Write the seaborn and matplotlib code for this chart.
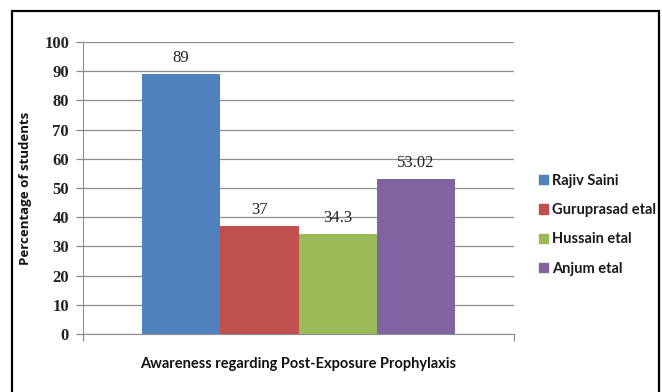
import matplotlib
matplotlib.use("Agg")
import matplotlib.pyplot as plt
import matplotlib.patches as mpatches
import seaborn as sns
import pandas as pd

# ── data ──────────────────────────────────────────────────────────────────────
studies = ["Rajiv Saini", "Guruprasad etal", "Hussain etal", "Anjum etal"]
awareness = [89, 37, 34.3, 53.02]
value_labels = ["89", "37", "34.3", "53.02"]
category = "Awareness regarding Post-Exposure Prophylaxis"
colors = ["#4F81BD", "#C0504D", "#9BBB59", "#8064A2"]
y_ticks = [0, 10, 20, 30, 40, 50, 60, 70, 80, 90, 100]

df = pd.DataFrame({"cat": [category] * len(studies),
                   "study": studies,
                   "pct": awareness})

sns.set_style("white")

fig = plt.figure(figsize=(6.62, 3.92), dpi=100)
ax = fig.add_axes([83 / 662, 1 - 334 / 392, 431 / 662, 292 / 392])

sns.barplot(data=df, x="cat", y="pct", hue="study", hue_order=studies,
            palette=colors, width=0.726, saturation=1, ax=ax,
            edgecolor="none", linewidth=0)

for cont, lab in zip(ax.containers, value_labels):
    ax.bar_label(cont, labels=[lab], padding=6, fontsize=12,
                 family="Liberation Serif", color="#222222")

# ── axes styling ─────────────────────────────────────────────────────────────
ax.set_ylim(0, 100)
ax.set_yticks(y_ticks)
ax.yaxis.grid(True, color="#8c8c8c", linewidth=0.9)
ax.set_axisbelow(True)
for s in ["top", "right"]:
    ax.spines[s].set_visible(False)
ax.spines["left"].set_color("#8c8c8c")
ax.spines["bottom"].set_color("#8c8c8c")
ax.tick_params(axis="y", length=5, width=0.9, color="#8c8c8c", pad=5,
               left=True, labelsize=12)
for t in ax.get_yticklabels():
    t.set_family("Liberation Serif")
    t.set_fontweight("bold")
    t.set_color("#222222")

ax.set_xticks([-0.5, 0.5])
ax.set_xticklabels(["", ""])
ax.tick_params(axis="x", length=5, width=0.9, color="#8c8c8c", bottom=True)
ax.set_xlim(-0.5, 0.5)

ax.set_xlabel(category, fontsize=10.5, fontweight="bold", family="Lato",
              labelpad=8, color="#111111")
ax.set_ylabel("Percentage of students", fontsize=9.5, fontweight="bold",
              family="Open Sans", labelpad=9, color="#111111")

# ── legend ────────────────────────────────────────────────────────────────────
handles = [mpatches.Patch(color=c, label=s) for c, s in zip(colors, studies)]
ax.get_legend().remove()
fig.legend(handles=handles, loc="upper left",
           bbox_to_anchor=(533 / 662, 1 - 168 / 392), frameon=False,
           prop={"family": "Lato", "size": 10.5, "weight": "bold"},
           labelcolor="#1a1a1a",
           handlelength=0.6, handleheight=0.6, handletextpad=0.3,
           labelspacing=1.05, borderaxespad=0)

# outer frame (bottom edge lies beyond the image)
fig.add_artist(mpatches.Rectangle((12 / 662, -0.1), 647 / 662, 1.1 - 11 / 392,
                                  transform=fig.transFigure, fill=False,
                                  edgecolor="black", linewidth=1.6,
                                  clip_on=False))

fig.savefig("out.png", dpi=100)
